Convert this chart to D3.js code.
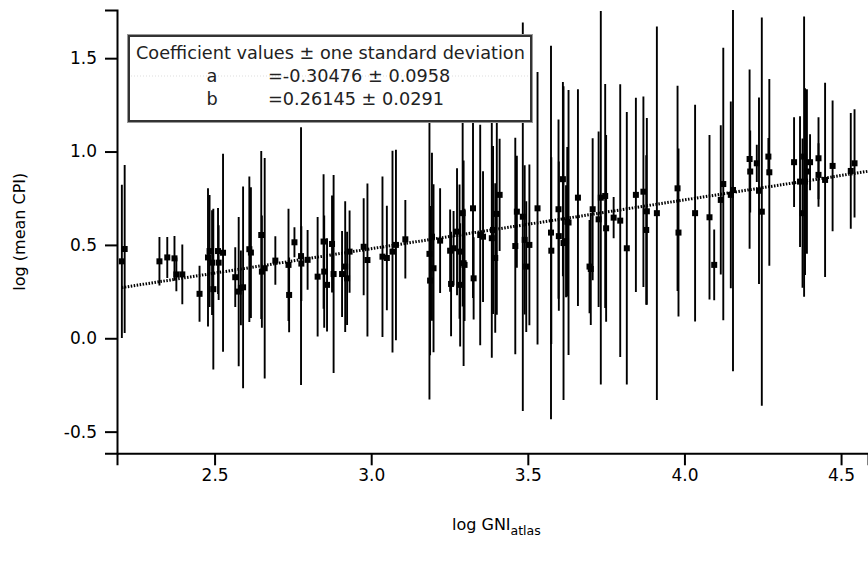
<!DOCTYPE html>
<html><head><meta charset="utf-8">
<script src="https://cdn.jsdelivr.net/npm/d3@7"></script>
<style>body{margin:0;background:#fff}svg{display:block}</style>
</head><body>
<svg id="chart" width="868" height="561"></svg>
<script>
const xValues = [
 2.204, 2.213, 2.324, 2.349, 2.372, 2.378, 2.397, 2.452, 2.479, 2.484,
 2.492, 2.496, 2.511, 2.513, 2.527, 2.566, 2.577, 2.584, 2.591, 2.611,
 2.616, 2.649, 2.651, 2.660, 2.694, 2.736, 2.738, 2.755, 2.776, 2.777,
 2.797, 2.829, 2.848, 2.850, 2.859, 2.875, 2.880, 2.907, 2.917, 2.923,
 2.931, 2.976, 2.988, 3.036, 3.050, 3.068, 3.079, 3.109, 3.186, 3.188,
 3.194, 3.199, 3.220, 3.252, 3.255, 3.263, 3.274, 3.282, 3.284, 3.292,
 3.295, 3.298, 3.325, 3.327, 3.348, 3.357, 3.385, 3.389, 3.396, 3.401,
 3.410, 3.460, 3.465, 3.484, 3.490, 3.495, 3.505, 3.531, 3.574, 3.575,
 3.598, 3.599, 3.612, 3.614, 3.622, 3.630, 3.626, 3.660, 3.697, 3.701,
 3.707, 3.726, 3.733, 3.747, 3.750, 3.774, 3.795, 3.816, 3.845, 3.869,
 3.878, 3.880, 3.912, 3.978, 3.981, 4.034, 4.080, 4.095, 4.116, 4.124,
 4.148, 4.155, 4.208, 4.210, 4.231, 4.238, 4.247, 4.268, 4.271, 4.350,
 4.369, 4.377, 4.382, 4.385, 4.391, 4.401, 4.428, 4.428, 4.449, 4.473,
 4.531, 4.543];
const yValues = [
 0.412, 0.478, 0.412, 0.433, 0.428, 0.342, 0.342, 0.238, 0.433, 0.467,
 0.405, 0.263, 0.467, 0.405, 0.458, 0.327, 0.25, 0.27, 0.273, 0.477,
 0.459, 0.553, 0.357, 0.375, 0.416, 0.393, 0.232, 0.514, 0.44, 0.40,
 0.42, 0.33, 0.518, 0.357, 0.286, 0.505, 0.344, 0.344, 0.384, 0.321,
 0.464, 0.49, 0.419, 0.437, 0.43, 0.464, 0.5, 0.53, 0.452, 0.309,
 0.544, 0.375, 0.523, 0.469, 0.291, 0.482, 0.571, 0.464, 0.286, 0.67,
 0.402, 0.393, 0.696, 0.321, 0.553, 0.544, 0.536, 0.58, 0.43, 0.666,
 0.768, 0.494, 0.678, 0.651, 0.527, 0.384, 0.5, 0.696, 0.566, 0.469,
 0.691, 0.547, 0.852, 0.51, 0.52, 0.62, 0.624, 0.753, 0.384, 0.371,
 0.691, 0.637, 0.753, 0.762, 0.589, 0.646, 0.63, 0.482, 0.768, 0.785,
 0.58, 0.68, 0.67, 0.803, 0.566, 0.67, 0.648, 0.393, 0.741, 0.826,
 0.768, 0.794, 0.96, 0.893, 0.937, 0.79, 0.678, 0.973, 0.889, 0.943,
 0.839, 0.67, 0.973, 0.839, 0.893, 0.943, 0.964, 0.875, 0.848, 0.923,
 0.896, 0.937];
const yErrors = [
 0.41, 0.45, 0.13, 0.11, 0.12, 0.09, 0.16, 0.15, 0.37, 0.30,
 0.28, 0.43, 0.23, 0.20, 0.53, 0.16, 0.40, 0.20, 0.54, 0.39,
 0.35, 0.45, 0.30, 0.59, 0.13, 0.30, 0.20, 0.08, 0.69, 0.20,
 0.16, 0.32, 0.36, 0.30, 0.25, 0.26, 0.53, 0.23, 0.35, 0.25,
 0.22, 0.26, 0.41, 0.43, 0.28, 0.54, 0.51, 0.21, 0.78, 0.40,
 0.45, 0.45, 0.28, 0.22, 0.28, 0.20, 0.34, 0.36, 0.33, 0.50,
 0.55, 0.30, 0.48, 0.22, 0.59, 0.35, 0.64, 0.45, 0.40, 0.54,
 0.30, 0.58, 0.30, 1.04, 0.40, 0.35, 0.43, 0.73, 1.00, 0.50,
 0.48, 0.40, 0.52, 0.84, 0.30, 0.71, 0.40, 0.58, 0.25, 0.30,
 0.38, 0.47, 1.00, 0.60, 0.50, 0.11, 0.73, 0.73, 0.52, 0.51,
 0.40, 0.50, 1.00, 0.55, 0.45, 0.58, 0.44, 0.19, 0.40, 0.73,
 0.50, 0.97, 0.48, 0.22, 0.10, 0.50, 1.04, 0.10, 0.50, 0.24,
 0.35, 0.40, 0.75, 0.50, 0.44, 0.15, 0.22, 0.17, 0.52, 0.35,
 0.31, 0.29];

const coefA = -0.30476, coefAErr = 0.0958;
const coefB = 0.26145, coefBErr = 0.0291;
const xTicks = [2.5, 3.0, 3.5, 4.0, 4.5];
const yTicks = [-0.5, 0.0, 0.5, 1.0, 1.5];
const xDomain = [2.1885, 4.586];
const yDomain = [-0.616, 1.758];

const FONT = "'DejaVu Sans', Verdana, sans-serif";
const svg = d3.select("#chart");
const L = 117, R = 868, T = 10, B = 453.3;

const x = d3.scaleLinear().domain(xDomain).range([L, R]);
const y = d3.scaleLinear().domain(yDomain).range([B, T]);

svg.append("defs").append("clipPath").attr("id", "clip")
  .append("rect").attr("x", L).attr("y", T).attr("width", R - L).attr("height", B - T);

const n = Math.min(xValues.length, yValues.length, yErrors.length);
const data = d3.range(n).map(i => ({x: xValues[i], y: yValues[i], e: yErrors[i]}));

const plot = svg.append("g").attr("clip-path", "url(#clip)");

// error bars
plot.selectAll("line.err").data(data).join("line")
  .attr("class", "err")
  .attr("x1", d => x(d.x)).attr("x2", d => x(d.x))
  .attr("y1", d => y(d.y + d.e)).attr("y2", d => y(d.y - d.e))
  .attr("stroke", "#000").attr("stroke-width", 1.9);

// fit line
const fx0 = d3.min(xValues), fx1 = xDomain[1];
plot.append("line")
  .attr("x1", x(fx0)).attr("y1", y(coefA + coefB * fx0))
  .attr("x2", x(fx1)).attr("y2", y(coefA + coefB * fx1))
  .attr("stroke", "#000").attr("stroke-width", 3)
  .attr("stroke-dasharray", "1.5,1.5");

// markers
plot.selectAll("rect.pt").data(data).join("rect")
  .attr("class", "pt")
  .attr("x", d => x(d.x) - 3).attr("y", d => y(d.y) - 3)
  .attr("width", 6).attr("height", 6).attr("fill", "#000");

// axes
const xAxis = d3.axisBottom(x).tickValues(xTicks).tickFormat(d3.format(".1f")).tickSizeOuter(0).tickSize(12).tickPadding(4);
const yAxis = d3.axisLeft(y).tickValues(yTicks).tickFormat(d3.format(".1f")).tickSizeOuter(0).tickSize(12).tickPadding(8);

const gx = svg.append("g").attr("transform", `translate(0,${B})`).call(xAxis);
const gy = svg.append("g").attr("transform", `translate(${L},0)`).call(yAxis);
[gx, gy].forEach(g => {
  g.select(".domain").attr("stroke", "#000").attr("stroke-width", 2);
  g.selectAll(".tick line").attr("stroke", "#000").attr("stroke-width", 2);
  g.selectAll(".tick text").attr("fill", "#000").style("font-family", FONT).style("font-size", "17px");
});
gy.selectAll(".tick text").text(d => d3.format(".1f")(d).replace("−", "-"));

// axis titles
svg.append("text")
  .attr("transform", `translate(25,${(T + B) / 2}) rotate(-90)`)
  .attr("text-anchor", "middle")
  .style("font-family", FONT).style("font-size", "16px").attr("fill", "#000")
  .text("log (mean CPI)");

const xt = svg.append("text")
  .attr("x", 452).attr("y", 530)
  .style("font-family", FONT).style("font-size", "16px").attr("fill", "#000");
xt.append("tspan").text("log GNI");
xt.append("tspan").attr("dy", 5).style("font-size", "12.5px").text("atlas");

// legend box
const lg = svg.append("g");
lg.append("rect").attr("x", 127.5).attr("y", 34.5).attr("width", 405).attr("height", 88)
  .attr("fill", "#fff").attr("stroke", "#999").attr("stroke-width", 1);
lg.append("rect").attr("x", 129).attr("y", 36).attr("width", 402).attr("height", 85)
  .attr("fill", "none").attr("stroke", "#333").attr("stroke-width", 2);
lg.append("line").attr("x1", 131).attr("x2", 529).attr("y1", 76).attr("y2", 76)
  .attr("stroke", "#ddd").attr("stroke-width", 1).attr("stroke-dasharray", "1,2");
const lt = (txt, xx, yy, anchor) => lg.append("text").attr("x", xx).attr("y", yy)
  .attr("text-anchor", anchor || "start")
  .style("font-family", FONT).style("font-size", "17.7px").attr("fill", "#222").text(txt);
lt("Coefficient values \u00B1 one standard deviation", 136, 59);
lt("a", 212, 82, "middle");
lt("=" + coefA.toFixed(5) + " \u00B1 " + coefAErr, 268, 82);
lt("b", 212, 105, "middle");
lt("=" + coefB.toFixed(5) + " \u00B1 " + coefBErr, 268, 105);
</script>
</body></html>
